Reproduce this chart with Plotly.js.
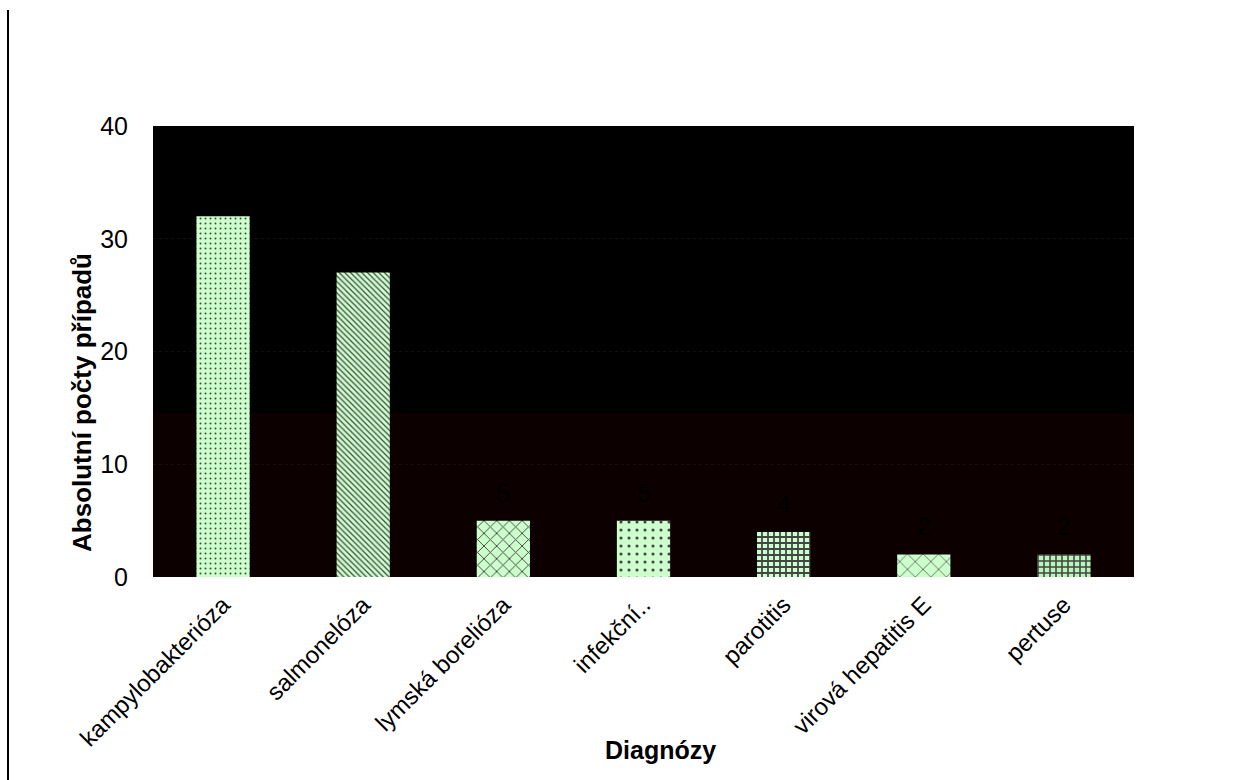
<!DOCTYPE html>
<html>
<head>
<meta charset="utf-8">
<script src="https://cdn.plot.ly/plotly-3.0.1.min.js"></script>
<style>html,body{margin:0;padding:0;background:#fff;}#chart{width:1253px;height:780px;}</style>
</head>
<body>
<div id="chart"></div>
<script>
const categories = ["kampylobakterióza", "salmonelóza", "lymská borelióza", "infekční..", "parotitis", "virová hepatitis E", "pertuse"];
const cases = [32, 27, 5, 5, 4, 2, 2];
const yTicks = [0, 10, 20, 30, 40];

const patternShapes = [".", "\\", "x", ".", "+", "x", "+"];
const patternSizes = [5, 4, 9, 8, 6, 11, 6];
const patternSolidity = [0.12, 0.3, 0.2, 0.12, 0.5, 0.12, 0.45];
const barColors = ["#ccffcc", "#ccffcc", "#ccffcc", "#ccffcc", "#ccffcc", "#ccffcc", "#b8f5b8"];

const fontFamily = "Liberation Sans, Arial, sans-serif";

const trace = {
  type: "bar",
  x: categories,
  y: cases,
  marker: {
    color: barColors,
    line: {width: 0},
    pattern: {
      shape: patternShapes,
      size: patternSizes,
      solidity: patternSolidity,
      fgcolor: "#000000",
      fgopacity: 1,
      fillmode: "overlay"
    }
  },
  hoverinfo: "x+y"
};

const valueLabels = categories.map((c, i) => ({
  x: c, y: cases[i], xref: "x", yref: "y",
  text: String(cases[i]), showarrow: false,
  yanchor: "bottom", yshift: 12,
  font: {family: fontFamily, size: 25, color: "#000000"}
}));

const titleLabels = [
  {text: "Absolutní počty případů", xref: "paper", yref: "paper", x: -0.0724, y: 0.388,
   xanchor: "center", yanchor: "middle", textangle: -90, showarrow: false,
   font: {family: fontFamily, size: 26, color: "#000000", weight: "bold"}},
  {text: "Diagnózy", xref: "paper", yref: "paper", x: 0.517, y: -0.384,
   xanchor: "center", yanchor: "middle", showarrow: false,
   font: {family: fontFamily, size: 25, color: "#000000", weight: "bold"}}
];

const layout = {
  width: 1253, height: 780,
  margin: {l: 153, r: 119, t: 126, b: 203},
  paper_bgcolor: "#ffffff",
  plot_bgcolor: "#000000",
  bargap: 0.62,
  showlegend: false,
  font: {family: fontFamily, color: "#000000"},
  xaxis: {
    type: "category",
    tickangle: -45,
    showgrid: false, zeroline: false, showline: false,
    ticks: "",
    ticklabelstandoff: 8,
    tickfont: {family: fontFamily, size: 24, color: "#000000"}
  },
  yaxis: {
    range: [0, 40],
    tickvals: yTicks,
    ticktext: yTicks.map(String),
    showgrid: true, gridcolor: "#180e0e", griddash: "dot", gridwidth: 1,
    zeroline: false, showline: false,
    ticks: "",
    ticklabelstandoff: 24,
    tickfont: {family: fontFamily, size: 25, color: "#000000"}
  },
  shapes: [
    {type: "rect", xref: "paper", yref: "paper", x0: 0, x1: 1, y0: 0, y1: 0.364,
     fillcolor: "#0c0000", line: {width: 0}, layer: "below"},
    {type: "line", xref: "paper", yref: "paper", x0: -0.1478, x1: -0.1478, y0: 1.257, y1: -0.46,
     line: {color: "#000000", width: 2}}
  ],
  annotations: valueLabels.concat(titleLabels)
};

Plotly.newPlot("chart", [trace], layout, {displayModeBar: false, staticPlot: true});
</script>
</body>
</html>
